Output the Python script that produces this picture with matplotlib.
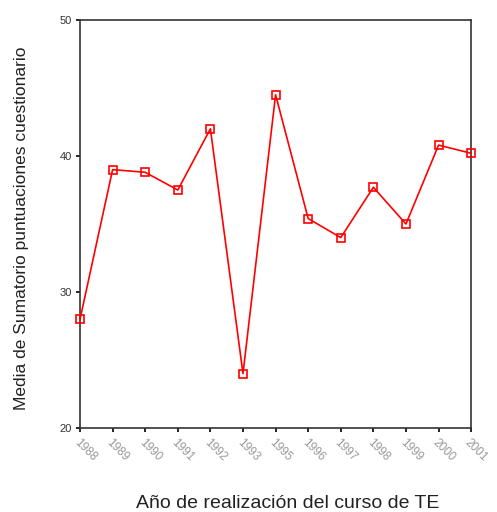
import matplotlib
matplotlib.use('Agg')
import matplotlib.pyplot as plt

# Data
years = ['1988', '1989', '1990', '1991', '1992', '1993', '1995',
         '1996', '1997', '1998', '1999', '2000', '2001']
means = [28.0, 39.0, 38.8, 37.5, 42.0, 24.0, 44.5,
         35.4, 34.0, 37.7, 35.0, 40.8, 40.2]
yticks = [20, 30, 40, 50]

plt.rcParams['font.family'] = ['Liberation Sans', 'DejaVu Sans']

fig = plt.figure(figsize=(4.97, 5.12), dpi=100)
ax = fig.add_axes([0.161, 0.164, 0.787, 0.797])

x = list(range(len(years)))
ax.plot(x, means, color='#ff0000', lw=1.2, marker='s', ms=6,
        mfc='none', mec='#ff0000', mew=1.2, clip_on=False, zorder=3)

ax.set_xlim(0, len(years) - 1)
ax.set_ylim(20, 50)
ax.set_xticks(x)
ax.set_xticklabels(years, rotation=-45, ha='left', va='top',
                   rotation_mode='anchor', color='#9a9a9a', fontsize=8.5)
ax.set_yticks(yticks)
ax.set_yticklabels([str(t) for t in yticks], fontsize=8, color='#333333')
ax.tick_params(axis='both', length=3, width=1.2, direction='out', pad=3)

for s in ax.spines.values():
    s.set_linewidth(1.2)
    s.set_color('#333333')

ax.set_xlabel('Año de realización del curso de TE', fontsize=14,
              color='#222222')
ax.set_ylabel('Media de Sumatorio puntuaciones cuestionario', fontsize=12.5,
              color='#222222')
ax.xaxis.set_label_coords(0.53, -0.165)
ax.yaxis.set_label_coords(-0.13, 0.49)

fig.savefig('out.png', dpi=100)
